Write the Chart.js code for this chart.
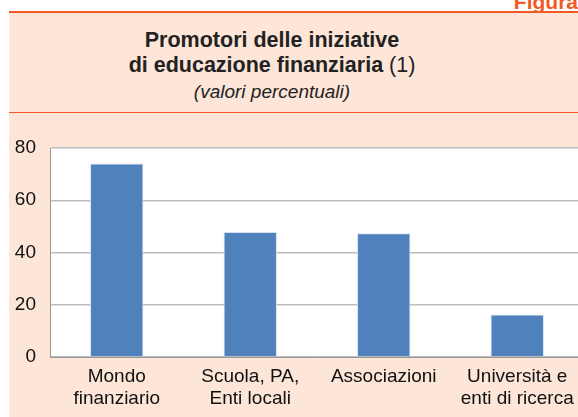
<!DOCTYPE html>
<html>
<head>
<meta charset="utf-8">
<script src="https://cdn.jsdelivr.net/npm/chart.js@4/dist/chart.umd.min.js"></script>
<style>
  body { margin: 0; width: 578px; height: 417px; overflow: hidden; background: #fff; position: relative;
         font-family: "Liberation Sans", Arial, sans-serif; }
  #fig { position: absolute; right: 0px; top: -10px; color: #f15a22; font-weight: bold; font-size: 21px; }
  #panel { position: absolute; left: 9px; top: 11px; width: 580px; height: 420px; background: #fde5d8;
           border-top: 2px solid #f15a22; }
  #head { position: absolute; left: 9px; top: 13px; width: 526px; height: 100px;
          text-align: center; color: #222; }
  #head .t { font-weight: bold; font-size: 21.5px; line-height: 25px; }
  #head .t span { font-weight: normal; }
  #head .s { font-style: italic; font-size: 19px; line-height: 28px; }
  #sep { position: absolute; left: 9px; top: 112px; width: 580px; height: 1px; background: #f15a22; }
  #wrap { position: absolute; left: 0; top: 120px; width: 600px; height: 297px; }
</style>
</head>
<body>
<div id="fig">Figura</div>
<div id="panel"></div>
<div id="sep"></div>
<div id="head">
  <div class="t" style="margin-top:15px">Promotori delle iniziative<br>di educazione finanziaria <span>(1)</span></div>
  <div class="s">(valori percentuali)</div>
</div>
<div id="wrap"><canvas id="c"></canvas></div>
<script>
const categories = [['Mondo', 'finanziario'], ['Scuola, PA,', 'Enti locali'], ['Associazioni'], ['Università e', 'enti di ricerca']];
const values = [74.1, 47.8, 47.4, 16.3];
const yTicks = [0, 20, 40, 60, 80];

const whiteArea = {
  id: 'whiteArea',
  beforeDraw(chart) {
    const a = chart.chartArea, c = chart.ctx;
    c.save();
    c.fillStyle = '#ffffff';
    c.fillRect(a.left, a.top, a.right - a.left, a.bottom - a.top);
    c.restore();
  }
};

const ctx = document.getElementById('c');
new Chart(ctx, {
  type: 'bar',
  data: {
    labels: categories,
    datasets: [{
      data: values,
      backgroundColor: '#4f81bd',
      borderColor: '#d5e0ef',
      borderWidth: {top: 1, left: 1, right: 1, bottom: 0},
      barPercentage: 0.4,
      categoryPercentage: 1
    }]
  },
  options: {
    responsive: true,
    maintainAspectRatio: false,
    animation: false,
    layout: { padding: { top: 28, right: 16, bottom: 4, left: 0 } },
    plugins: { legend: { display: false }, tooltip: { enabled: false } },
    scales: {
      x: {
        afterFit: s => { s.height = 56; },
        grid: { display: false, drawTicks: false },
        border: { color: '#999999', width: 1 },
        ticks: { color: '#111', font: { family: 'Liberation Sans', size: 19, lineHeight: 1.2 }, padding: 8, maxRotation: 0, autoSkip: false }
      },
      y: {
        min: 0, max: 80,
        afterBuildTicks: s => { s.ticks = yTicks.map(v => ({ value: v })); },
        afterFit: s => { s.width = 50; },
        grid: { color: '#bcbcbc', lineWidth: 1.5, drawTicks: false },
        border: { color: '#999999', width: 1 },
        ticks: { color: '#111', font: { family: 'Liberation Sans', size: 19 }, padding: 14 }
      }
    }
  },
  plugins: [whiteArea]
});
</script>
</body>
</html>
